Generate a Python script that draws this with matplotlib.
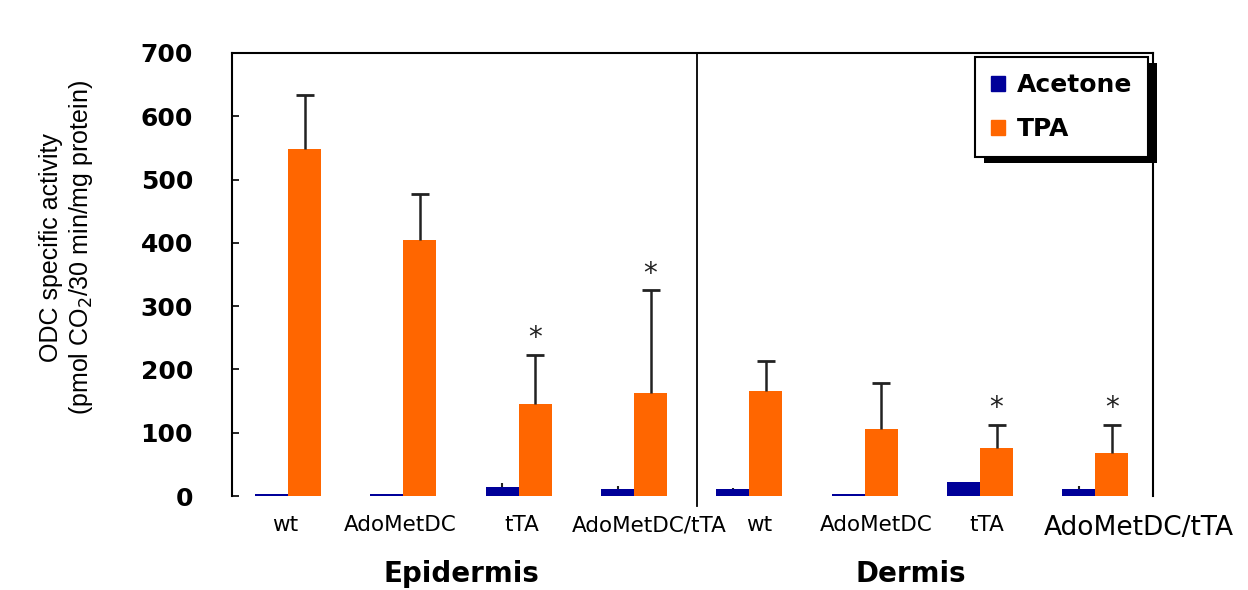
import numpy as np
import matplotlib.pyplot as plt
from matplotlib.patches import Patch, Rectangle
from matplotlib.transforms import ScaledTranslation, IdentityTransform

#%% data

groups = ["wt", "AdoMetDC", "tTA", "AdoMetDC/tTA", "wt", "AdoMetDC", "tTA", "AdoMetDC/tTA"]
acetone = [3, 3, 15, 11, 11, 3, 22, 11]
acetone_err = [0, 0, 5, 5, 2, 0, 0, 5]
tpa = [548, 404, 145, 163, 166, 106, 76, 68]
tpa_err = [85, 73, 78, 162, 47, 72, 36, 44]
signif = [False, False, True, True, False, False, True, True]
tissues = ["Epidermis", "Dermis"]

c_acetone = "#000099"
c_tpa = "#FF6600"

#%% plot

fig = plt.figure(figsize=(12.48, 5.9), dpi=100)
ax = fig.add_axes([0.1859, 0.1593, 0.738, 0.7509])

x = np.arange(len(groups))
w = 0.286
acetone = np.array(acetone)
tpa = np.array(tpa)
acetone_err = np.array(acetone_err)
tpa_err = np.array(tpa_err)

ax.bar(x - w/2, acetone, w, color=c_acetone, zorder=2)
ax.bar(x + w/2, tpa, w, color=c_tpa, zorder=2)

# upper-only error bars (no cap at the bar top)
ax.vlines(x - w/2, acetone, acetone + acetone_err, color="#222222", lw=1.5, zorder=3)
ax.vlines(x + w/2, tpa, tpa + tpa_err, color="#222222", lw=1.8, zorder=3)
ax.plot(x + w/2, tpa + tpa_err, ls="none", marker="_", ms=13, mew=2, color="#222222", zorder=3)

for i in range(len(x)):
    if signif[i]:
        ax.annotate("*", (x[i] + w/2, tpa[i] + tpa_err[i]), xytext=(0, 12),
                    textcoords="offset points", ha="center", va="center",
                    fontsize=20, color="#222222")

ax.set_xlim(-0.486, 7.5)
ax.set_ylim(0, 700)
ax.set_yticks(np.arange(0, 701, 100))
ax.tick_params(axis="y", direction="in", length=5, width=1.2, pad=28)
for lab in ax.get_yticklabels():
    lab.set_fontsize(18)
    lab.set_fontweight("bold")

ax.set_xticks(x)
ax.set_xticklabels(groups, fontsize=15.5)
ax.tick_params(axis="x", length=0, pad=14)
# nudge labels like in the original
shifts = [-3, -3, 3, 15, 10, 12, 7, 43]
for lab, s in zip(ax.get_xticklabels(), shifts):
    lab.set_transform(lab.get_transform() + ScaledTranslation(s/100, 0, fig.dpi_scale_trans))
ax.get_xticklabels()[-1].set_fontsize(19)

for side in ["left", "right", "top"]:
    ax.spines[side].set_linewidth(1.5)
ax.spines["bottom"].set_visible(False)

ax.axvline(3.55, ymin=-0.022, ymax=1, color="black", lw=1.3, clip_on=False)

ax.set_ylabel("ODC specific activity\n(pmol CO$_2$/30 min/mg protein)",
              family="Liberation Sans", fontsize=18)
ax.yaxis.set_label_coords(-0.149, 0.56)

ax.text(1.5, -0.175, tissues[0], transform=ax.get_xaxis_transform(),
        ha="center", va="center", fontsize=20, fontweight="bold")
ax.text(5.4, -0.175, tissues[1], transform=ax.get_xaxis_transform(),
        ha="center", va="center", fontsize=20, fontweight="bold")

handles = [Patch(color=c_acetone, label="Acetone"), Patch(color=c_tpa, label="TPA")]
leg = ax.legend(handles=handles, loc="upper right", bbox_to_anchor=(0.9946, 0.991),
                borderaxespad=0,
                prop=dict(size=18, weight="bold"), handlelength=0.55, handleheight=0.55,
                handletextpad=0.45, labelspacing=0.8, borderpad=0.65,
                fancybox=False, edgecolor="black", framealpha=1)
leg.get_frame().set_linewidth(1.5)
leg.set_zorder(10)

# hard black drop shadow behind the legend box
fig.canvas.draw()
bb = leg.get_window_extent()
sh = Rectangle((bb.x0 + 9, bb.y0 - 6), bb.width, bb.height, transform=IdentityTransform(),
               facecolor="black", edgecolor="none", zorder=9, clip_on=False)
ax.add_artist(sh)

fig.savefig("out.png", dpi=100)
